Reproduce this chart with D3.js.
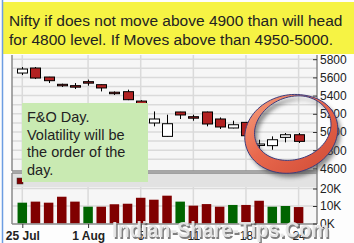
<!DOCTYPE html>
<html><head><meta charset="utf-8">
<script src="https://cdn.jsdelivr.net/npm/d3@7"></script>
<style>body{margin:0;background:#fff;} svg{display:block;font-family:"Liberation Sans",Arial,sans-serif;}</style>
</head><body><svg id="c" width="354" height="243"></svg>
<script>
// ---- data ----
const dates = ["25 Jul","26 Jul","27 Jul","28 Jul","29 Jul","1 Aug","2 Aug","3 Aug","4 Aug","5 Aug","8 Aug","9 Aug","10 Aug","11 Aug","12 Aug","16 Aug","17 Aug","18 Aug","19 Aug","22 Aug","23 Aug","24 Aug"];
const open  = [5648,5703,5604,5518,5503,5547,5520,5431,5443,5340,5099,4952,5220,5162,5220,5143,5044,5106,4858,4850,4941,4970];
const high  = [5714,5714,5606,5531,5538,5575,5522,5446,5465,5350,5226,5190,5222,5190,5224,5160,5124,5110,4915,4952,4989,4989];
const low   = [5626,5582,5538,5495,5473,5509,5446,5407,5350,5240,5062,4948,5143,5124,5062,5033,5040,4950,4805,4805,4886,4879];
const close = [5692,5593,5564,5514,5499,5543,5484,5427,5355,5260,5143,5091,5187,5158,5088,5055,5080,4959,4862,4915,4970,4897];
const volume = [11900,12500,11900,15300,12500,9600,9600,11000,11300,14700,13600,15900,12500,10200,11100,9600,10600,10600,13000,9600,10000,9400];
const volUp  = [1,0,0,0,0,1,0,0,0,0,0,0,1,0,0,0,1,0,0,1,1,0];
const xTickDates  = ["25 Jul","1 Aug","5 Aug","11 Aug","18 Aug","24 Aug"];
const xTickLabels = ["25 Jul","1 Aug","5","11","18","24"];
const xTickBold   = [true,true,false,false,false,false];
const priceTicks = [4600,4800,5000,5200,5400,5600,5800];
const volTicks = [0,10000,20000];
const volTickLabels = ["0K","10K","20K"];
const noteTop = ["Nifty if does not move above 4900 than will head","for 4800 level. If Moves above than 4950-5000."];
const noteBox = ["F&O Day.","Volatility will be","the order of the","day."];
const watermark = "Indian-Share-Tips.Com";

// ---- layout ----
const svg = d3.select("#c");
const L = 12, R = 317;
const pTop = 55, pBot = 171;
const vTop = 173, vBand = 187, vBot = 224;

const x = d3.scalePoint().domain(dates).range([22.3, 298.6]);
const y = d3.scaleLinear().domain([4600,5800]).range([168.4,59.2]);
const yv = d3.scaleLinear().domain([0,20000]).range([223.5,188.5]);

svg.append("rect").attr("width",354).attr("height",243).attr("fill","#fdfdfd");
// panels
svg.append("rect").attr("x",L).attr("y",pTop).attr("width",R-L).attr("height",pBot-pTop).attr("fill","#f6f6f6");
svg.append("rect").attr("x",L).attr("y",vTop).attr("width",R-L).attr("height",vBot-vTop).attr("fill","#f6f6f6");
svg.append("rect").attr("x",L).attr("y",vTop).attr("width",R-L).attr("height",vBand-vTop).attr("fill","#e2e2e2");

// grid price
const g = svg.append("g").attr("stroke","#dadada").attr("stroke-width",1.5);
d3.range(4700,5800,100).forEach(v=>{
  g.append("line").attr("x1",L).attr("x2",R).attr("y1",y(v)).attr("y2",y(v));
});
g.append("line").attr("x1",L).attr("x2",R).attr("y1",y(5800)).attr("y2",y(5800));
xTickDates.forEach(d=>{
  g.append("line").attr("x1",x(d)).attr("x2",x(d)).attr("y1",pTop).attr("y2",pBot);
  g.append("line").attr("x1",x(d)).attr("x2",x(d)).attr("y1",vBand).attr("y2",vBot);
});
volTicks.slice(1).forEach(v=>{
  g.append("line").attr("x1",L).attr("x2",R).attr("y1",yv(v)).attr("y2",yv(v));
});

// candles
const cw = 10;
const cg = svg.append("g");
dates.forEach((d,i)=>{
  const cx = Math.round(x(d))+0.5;
  cg.append("line").attr("x1",cx).attr("x2",cx).attr("y1",y(high[i])).attr("y2",y(low[i])).attr("stroke","#000").attr("stroke-width",1);
  const top = y(Math.max(open[i],close[i])), bot = y(Math.min(open[i],close[i]));
  const h = Math.max(bot-top,1.5);
  cg.append("rect").attr("x",cx-cw/2).attr("y",(top+bot)/2-h/2).attr("width",cw).attr("height",h)
    .attr("fill", close[i]>=open[i] ? "#ffffff" : "#b22222").attr("stroke","#000").attr("stroke-width",1);
});

// volume bars
const vb = 9.5;
dates.forEach((d,i)=>{
  svg.append("rect").attr("x",x(d)-vb/2).attr("y",yv(volume[i])).attr("width",vb).attr("height",yv(0)-yv(volume[i]))
    .attr("fill", volUp[i] ? "#006400" : "#800000");
});
// legend square in band
svg.append("rect").attr("x",17).attr("y",178).attr("width",6).attr("height",6).attr("fill","#800000").attr("stroke","#333").attr("stroke-width",0.5);

// borders/axes
const ax = svg.append("g").attr("stroke","#8a8a8a").attr("stroke-width",1.5).attr("fill","none");
ax.append("line").attr("x1",L).attr("x2",L).attr("y1",pTop).attr("y2",pBot);
ax.append("line").attr("x1",L).attr("x2",R).attr("y1",pBot).attr("y2",pBot);
ax.append("line").attr("x1",L).attr("x2",R).attr("y1",vTop).attr("y2",vTop);
ax.append("line").attr("x1",L).attr("x2",L).attr("y1",vTop).attr("y2",vBot);
ax.append("line").attr("x1",L).attr("x2",R).attr("y1",vBot).attr("y2",vBot);
ax.append("line").attr("x1",R).attr("x2",R).attr("y1",pTop).attr("y2",vBot);

const yAxisP = svg.append("g").attr("transform",`translate(${R},0)`)
  .call(d3.axisRight(y).tickValues(priceTicks).tickSize(-4).tickPadding(6).tickFormat(d3.format("d")));
const yAxisV = svg.append("g").attr("transform",`translate(${R},0)`)
  .call(d3.axisRight(yv).tickValues(volTicks).tickSize(-4).tickPadding(6).tickFormat((d,i)=>volTickLabels[i]));
[yAxisP,yAxisV].forEach(a=>{
  a.select(".domain").remove();
  a.selectAll("line").attr("stroke","#333").attr("stroke-width",1);
  a.selectAll("text").attr("font-size",12).attr("fill","#222").attr("font-family","Liberation Sans, Arial, sans-serif").attr("x",3);
});
const xAxis = svg.append("g").attr("transform",`translate(0,${vBot})`)
  .call(d3.axisBottom(x).tickValues(xTickDates).tickSize(4).tickPadding(3).tickFormat((d,i)=>xTickLabels[i]));
xAxis.select(".domain").remove();
xAxis.selectAll("line").attr("stroke","#333");
xAxis.selectAll("text").attr("font-size",12).attr("fill","#222").attr("font-family","Liberation Sans, Arial, sans-serif")
  .attr("font-weight",(d,i)=>xTickBold[i]?"bold":"normal");

// green note box
svg.append("rect").attr("x",22).attr("y",103).attr("width",126).attr("height",79).attr("fill","#c9eab2");
const gt = svg.append("text").attr("x",27).attr("font-size",14.5).attr("fill","#222");
noteBox.forEach((t,i)=> gt.append("tspan").attr("x",27).attr("y",121.7+i*17.8).text(t));

// yellow header box
svg.append("rect").attr("x",3).attr("y",2).attr("width",351).attr("height",52).attr("fill","#f6f344");
const yt = svg.append("text").attr("font-size",15.5).attr("fill","#222");
noteTop.forEach((t,i)=> yt.append("tspan").attr("x",9).attr("y",26+i*19).text(t));

// left blue edge
svg.append("line").attr("x1",2.5).attr("x2",2.5).attr("y1",0).attr("y2",243).attr("stroke","#6c9de2").attr("stroke-width",1.5);

// ring annotation
const defs = svg.append("defs");
const gr = defs.append("linearGradient").attr("id","rg").attr("x1","0").attr("y1","0").attr("x2","1").attr("y2","1");
gr.append("stop").attr("offset","0%").attr("stop-color","#f5a382");
gr.append("stop").attr("offset","45%").attr("stop-color","#e8684d");
gr.append("stop").attr("offset","100%").attr("stop-color","#cf4a35");
defs.append("filter").attr("id","bl").append("feGaussianBlur").attr("stdDeviation",2);
const cx0=292, cy0=131, rx=43, ry=35, rot=-18*Math.PI/180;
const tThin = Math.atan2(-39,24);
const pts = (sign)=>d3.range(0,361,4).map(a=>{
  const t = a*Math.PI/180;
  const dAng = Math.cos(t - tThin);
  const w = 1 + 12*Math.pow((1-dAng)/2,0.7);
  const r1 = rx + sign*w/2, r2 = ry + sign*w/2;
  const ex = r1*Math.cos(t), ey = r2*Math.sin(t);
  return [cx0 + ex*Math.cos(rot) - ey*Math.sin(rot), cy0 + ex*Math.sin(rot) + ey*Math.cos(rot)];
});
const outer = pts(1), inner = pts(-1);
const line = d3.line().curve(d3.curveLinearClosed);
const ringD = line(outer) + line(inner);
svg.append("path").attr("d",ringD).attr("fill","#444").attr("fill-rule","evenodd").attr("opacity",0.6)
  .attr("transform","translate(3,4)").attr("filter","url(#bl)");
svg.append("path").attr("d",ringD).attr("fill","url(#rg)").attr("fill-rule","evenodd").attr("stroke","#3c3c7c").attr("stroke-width",1);

// watermark
const wm = svg.append("g").attr("font-size",22).attr("font-weight","bold");
wm.append("text").attr("x",113.5).attr("y",238.5).attr("textLength",217).attr("lengthAdjust","spacingAndGlyphs").attr("fill","#555").attr("opacity",0.75).text(watermark);
wm.append("text").attr("x",112).attr("y",237).attr("textLength",217).attr("lengthAdjust","spacingAndGlyphs").attr("fill","#e6e6e6").attr("opacity",0.95).text(watermark);
</script></body></html>
